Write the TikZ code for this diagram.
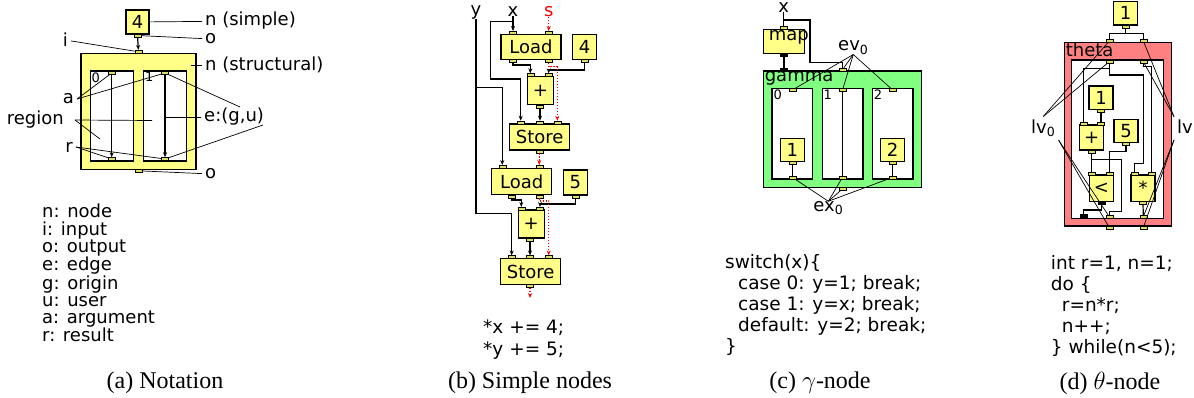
\documentclass[tikz,border=0pt]{standalone}
\usepackage{fontspec}
\newfontfamily\dejavu{DejaVu Sans}
\newfontfamily\capfont{Liberation Serif}
\usetikzlibrary{arrows.meta,calc}
\definecolor{opfill}{RGB}{255,255,136}
\definecolor{portfill}{RGB}{224,224,96}
\definecolor{gammafill}{RGB}{128,255,128}
\definecolor{thetafill}{RGB}{255,128,128}
\definecolor{statered}{RGB}{255,0,0}
\begin{document}
\begin{tikzpicture}[x=1pt,y=-1pt,
  every node/.style={inner sep=0pt,font=\dejavu\fontsize{18}{18}\selectfont},
  op/.style={draw,fill=opfill,line width=1.4pt,minimum width=24,minimum height=24},
  region/.style={draw,fill=white,line width=1.4pt},
  port/.style={draw,fill=portfill,line width=0.5pt,minimum width=7,minimum height=3},
  bport/.style={port,fill=black},
  edge/.style={line width=1.2pt},
  arr/.style={edge,-{Stealth[length=5pt,width=4pt]}},
  state/.style={statered,line width=1.2pt,dash pattern=on 1.5pt off 1.5pt,-{Stealth[length=5pt,width=4pt]}},
  note/.style={line width=0.7pt},
  tag/.style={inner sep=3pt},
  rlabel/.style={font=\dejavu\fontsize{13}{13}\selectfont,anchor=north west},
  code/.style={align=left,anchor=north west,font=\dejavu\fontsize{18.5}{21.1}\selectfont},
  capt/.style={font=\capfont\fontsize{24}{24}\selectfont}]
\useasboundingbox (0,0) rectangle (1194,398);

% (a) notation
\node[op,minimum width=23] (simple) at (137.5,22) {4};
\node[op,minimum width=115,minimum height=116] (struct) at (138.5,111.3) {};
\node[region,minimum width=43,minimum height=90] (regl) at (111.7,116) {};
\node[region,minimum width=43,minimum height=90] (regr) at (165,116) {};
\node[rlabel] (regl-lab) at ($(regl.north west)+(2,2)$) {0};
\node[rlabel] (regr-lab) at ($(regr.north west)+(2,2)$) {1};
\foreach \n/\x/\y in {simpleo/137.5/35.5, structi/138.5/51.8, structo/138.5/170.8,
    regli/111.7/73, reglo/111.7/159, regri/165/73, regro/165/159}
  \node[port] (\n) at (\x,\y) {};
\draw[arr] (simpleo) -- (structi);
\draw[arr] (regli) -- (reglo);
\draw[arr] (regri) -- (regro);

\node[tag,anchor=west] (lsimple) at (202,21) {n (simple)};
\node[tag,anchor=west] (lo1) at (202,39) {o};
\node[tag,anchor=east] (li) at (71,40) {i};
\node[tag,anchor=west] (lstruct) at (202,65) {n (structural)};
\node[tag,anchor=east] (la) at (77,99) {a};
\node[tag,anchor=east] (lregion) at (67,120) {region};
\node[tag,anchor=west] (le) at (201,117) {e:(g,u)};
\node[tag,anchor=east] (lr) at (76,147) {r};
\node[tag,anchor=west] (lo2) at (202,174) {o};
\coordinate (cstruct) at (191,65);
\coordinate (cregl) at (100,139);
\coordinate (cregr) at (152,120.5);
\coordinate (cregs) at ($(lregion.east)+(8,0)$);
\coordinate (cedge) at (165.5,117);
\coordinate (cg) at ($(le.west)+(39,-10)$);
\coordinate (cu) at ($(le.west)+(62,8)$);
\draw[note] (simple) -- (lsimple);
\draw[note] (simpleo) -- (lo1);
\draw[note] (li) -- (structi);
\draw[note] (cstruct) -- (lstruct);
\draw[note] (la.east) -- (regli);
\draw[note] (la.east) -- (regri);
\draw[note] (cregs) -- (cregl);
\draw[note] (cregs) -- (cregr);
\draw[note] (le) -- (cedge);
\draw[note] (cg) -- (regri);
\draw[note] (cu) -- (regro);
\draw[note] (lr.east) -- (reglo);
\draw[note] (lr.east) -- (regro);
\draw[note] (structo) -- (lo2);

\node[align=left,anchor=north west,font=\dejavu\fontsize{18}{17.2}\selectfont] (legend) at (42,204)
  {n: node\\i: input\\o: output\\e: edge\\g: origin\\u: user\\a: argument\\r: result};
\node[capt] (capa) at (165,383) {(a) Notation};

% (b) simple nodes
\node[op,minimum width=60,minimum height=25] (load1) at (531,46.8) {Load};
\node[op,minimum height=25] (c4) at (584.5,46.8) {4};
\node[op,minimum width=26,minimum height=28] (add1) at (540.3,90.8) {+};
\node[op,minimum width=60,minimum height=26] (store1) at (539.7,137) {Store};
\node[op,minimum width=60,minimum height=26] (load2) at (521.7,181.7) {Load};
\node[op,minimum height=25] (c5) at (575.3,182.5) {5};
\node[op,minimum width=26,minimum height=28] (add2) at (531.2,224.2) {+};
\node[op,minimum width=60,minimum height=26] (store2) at (530.7,271.7) {Store};
\foreach \n/\x/\y in {l1i0/513/32.8, l1i1/548.7/32.8, l1o0/513/60.8, l1o1/548.7/60.8,
    c4o/584.5/60.8, a1i0/530.3/75.1, a1i1/548.7/75.1, a1o/540/106.5,
    s1i0/520.7/122.5, s1i1/540/122.5, s1i2/557.3/122.5, s1o/539.3/151.5,
    l2i0/502.3/166.8, l2i1/539.3/166.8, l2o0/511.7/196.5, l2o1/539.3/196.5,
    c5o/575.3/196.5, a2i0/521.3/208.7, a2i1/540/208.7, a2o/530/239.7,
    s2i0/511.7/257.2, s2i1/530/257.2, s2i2/548.7/257.2, s2o/530/286.2}
  \node[port] (\n) at (\x,\y) {};
\node (ylab) at (476,12.5) {y};
\node (xlab) at (513,11.3) {x};
\node[text=statered] (slab) at (548.7,11.3) {s};
\coordinate (ybr) at (476,87.3);
\coordinate (xbr) at (513,21.7);
\coordinate (memout) at (530,298);
\draw[arr] (ylab) -- (476,213.3) -| (s2i0);
\draw[arr] (ybr) -| (l2i0);
\draw[arr] (xlab) -- (l1i0);
\draw[arr] (xbr) -| (490.7,79) -| (s1i0);
\draw[state] (slab) -- (l1i1);
\draw[arr] (l1o0) -- ++(0,4.2) -| (a1i0);
\draw[arr] (c4o) -- ++(0,9.2) -| (a1i1);
\draw[state] (l1o1) -- ++(0,6) -| (s1i2);
\draw[arr] (a1o) -- (s1i1);
\draw[state] (s1o) -- (l2i1);
\draw[arr] (l2o0) -- ++(0,3.5) -| (a2i0);
\draw[arr] (c5o) -- ++(0,7.5) -| (a2i1);
\draw[state] (l2o1) -- ++(0,4.5) -| (s2i2);
\draw[arr] (a2o) -- (s2i1);
\draw[state] (s2o) -- (memout);
\node[code] (codeb) at (483,320) {*x += 4;\\{}*y += 5;};
\node[capt] (capb) at (530,383) {(b) Simple nodes};

% (c) gamma node
\node (xlabc) at (783.8,7.2) {x};
\node[op,minimum width=41,minimum height=24] (map) at (783.8,41.3) {};
\node[anchor=north] (maptxt) at ($(map.north)+(5,1.4)$) {map};
\node[op,fill=gammafill,minimum width=158.4,minimum height=116.3] (gamma) at (842.5,129.2) {};
\node[anchor=north west] (gammatxt) at ($(gamma.north west)+(2,0.7)$) {gamma};
\foreach \n/\x/\l in {gr0/792.3/0, gr1/842.5/1, gr2/892.7/2} {
  \node[region,minimum width=40.6,minimum height=90.7] (\n) at (\x,133.7) {};
  \node[rlabel] (\n-lab) at ($(\n.north west)+(2,2)$) {\l};
  \node[port] (\n-i) at (\x,90) {};
  \node[port] (\n-o) at (\x,177.3) {};
}
\node[op,minimum height=23.4] (gc1) at (792.3,150) {1};
\node[op,minimum height=23.4] (gc2) at (892.7,150) {2};
\foreach \n/\x/\y in {mi/783.8/28, gi1/842.5/69.6, go/842.5/188.9, gc1o/792.3/163.2, gc2o/892.7/163.2}
  \node[port] (\n) at (\x,\y) {};
\node[bport] (mo) at (783.8,55) {};
\node[bport] (gi0) at (783.8,69.6) {};
\coordinate (xbrc) at (783.8,20);
\draw[edge] (xlabc) -- (mi);
\draw[edge] (xbrc) -| (810,62.3) -| (gi1);
\draw[line width=2pt] (mo) -- (gi0);
\draw[edge] (gr1-i) -- (gr1-o);
\draw[edge] (gc1o) -- (gr0-o);
\draw[edge] (gc2o) -- (gr2-o);
\node (ev0) at (853.3,47.5) {ev\textsubscript{0}};
\node (ex0) at (828.3,208.3) {ex\textsubscript{0}};
\foreach \p in {gi1,gr0-i,gr1-i,gr2-i} \draw[note] (ev0.south) -- (\p);
\foreach \p in {go,gr0-o,gr1-o,gr2-o} \draw[note] (ex0.north) -- (\p);
\node[code] (codec) at (725,254) {switch(x)\{\\\hspace*{13pt}case 0: y=1; break;\\\hspace*{13pt}case 1: y=x; break;\\\hspace*{13pt}default: y=2; break;\\\}};
\node[capt] (capc) at (820,383) {(c) $\gamma$-node};

% (d) theta node
\node[op,minimum height=23.3] (tc1) at (1125.7,13.3) {1};
\node[op,fill=thetafill,minimum width=107.4,minimum height=183.3] (theta) at (1118,134.4) {};
\node[anchor=north west] (thetatxt) at ($(theta.north west)+(2,1)$) {theta};
\node[region,minimum width=91.6,minimum height=158.3] (treg) at (1117.5,139.2) {};
\node[op,minimum height=23.3] (tc1b) at (1101,97.7) {1};
\node[op,minimum height=25] (tadd) at (1091.7,137.5) {+};
\node[op,minimum height=23.3] (tc5) at (1126,131) {5};
\node[op,minimum height=26.7] (tlt) at (1101.3,188.3) {<};
\node[op,minimum height=26.7] (tmul) at (1143,188.3) {*};
\foreach \n/\x/\y in {tc1o/1125.7/26.4, ti0/1109.3/41, ti1/1143.3/41, to0/1109.3/227.7, to1/1143.3/227.7,
    ri0/1109.3/61.7, ri1/1143.3/61.7, ro0/1109.3/216.7, ro1/1143.3/216.7,
    tc1bo/1101/111, taddi0/1083.3/123.5, taddi1/1101/123.5, taddo/1091.7/151.5, tc5o/1126/144.2,
    tlti0/1091.7/173.5, tlti1/1109.3/173.5, tmuli0/1134.3/173.5, tmuli1/1151.7/173.5, tmulo/1143/203.1}
  \node[port] (\n) at (\x,\y) {};
\node[bport] (tlto) at (1101.3,203.1) {};
\node[bport] (rop) at (1083.3,215.8) {};
\draw[edge] (tc1o) -- ++(0,7) coordinate (tbr);
\draw[edge] (ti0) |- (tbr) -| (ti1);
\draw[edge] (ri0) -- ++(0,6.6) -| (taddi0);
\draw[edge] (ri0) |- (1143.3,75) |- (1134.3,163.3) -- (tmuli0);
\draw[edge] (ri1) -- ++(0,5) -| (tmuli1);
\draw[edge] (tc1bo) -- (taddi1);
\draw[edge] (taddo) -- (tlti0);
\coordinate (taddbr) at (1091.7,159.3);
\draw[edge] (taddbr) -| (1121.7,211.7) -| (ro0);
\draw[edge] (tc5o) -- ++(0,7.5) -| (tlti1);
\draw[edge] (tlto) -- ++(0,6.9) -| (rop);
\draw[edge] (tmulo) -- (ro1);
\node[tag] (lv0) at (1043.3,128.3) {lv\textsubscript{0}};
\node[tag,anchor=west] (lv1) at (1174,128.3) {lv\textsubscript{1}};
\foreach \p in {ti0,ri0} \draw[note] (lv0.north) -- (\p);
\foreach \p in {ro0,to0} \draw[note] (lv0.south east) -- (\p);
\foreach \p in {ti1,ri1} \draw[note] (lv1.north west) -- (\p);
\foreach \p in {ro1,to1} \draw[note] (lv1.south west) -- (\p);
\node[code] (coded) at (1050.7,255) {int r=1, n=1;\\do \{\\\hspace*{11pt}r=n*r;\\\hspace*{11pt}n++;\\\} while(n<5);};
\node[capt] (capd) at (1110,383) {(d) $\theta$-node};
\end{tikzpicture}
\end{document}
